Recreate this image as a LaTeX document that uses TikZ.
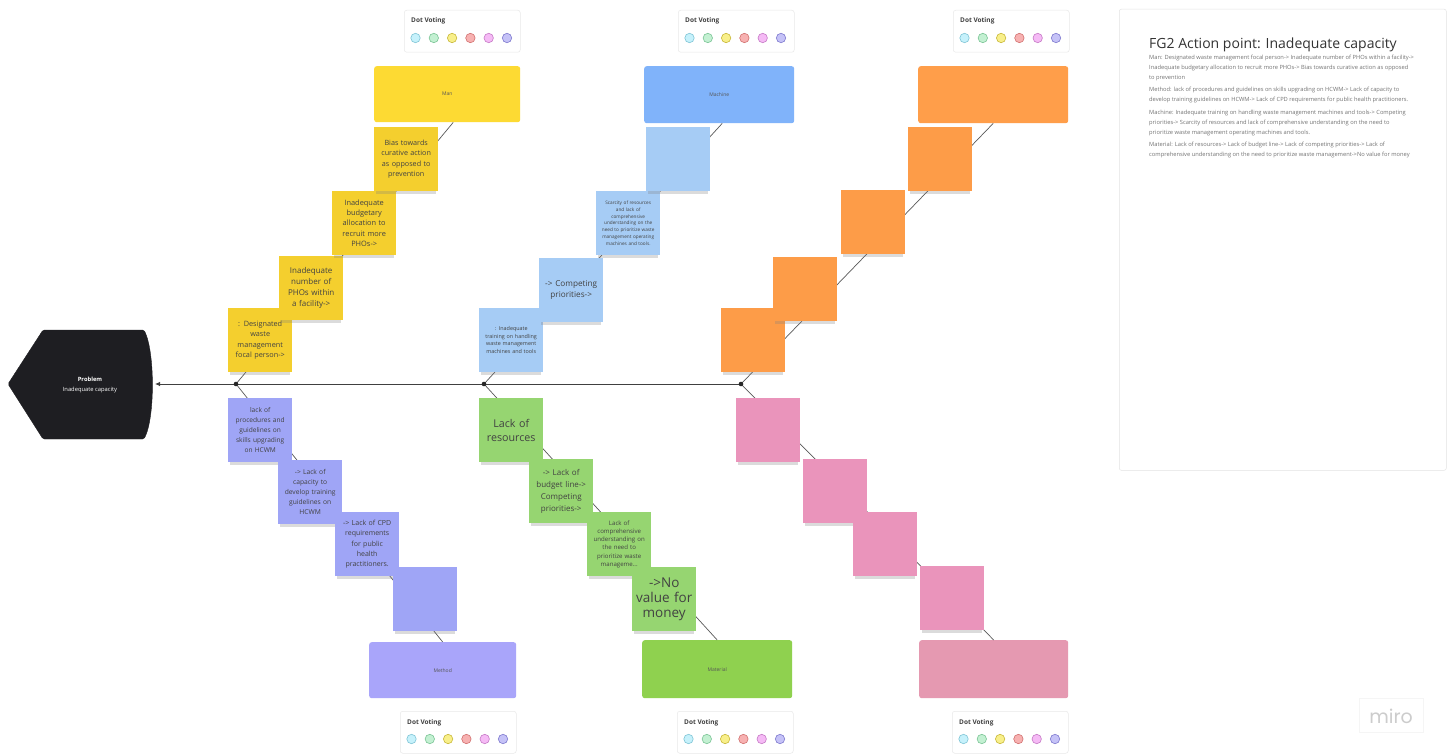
\documentclass[tikz,border=0pt]{standalone}
\usepackage{fontspec}
\setmainfont{Open Sans}
\newfontfamily\logofont{Poppins}
\usetikzlibrary{arrows.meta,shadows}
\newcommand\fsz[2]{\fontsize{#1}{#2}\selectfont}
\definecolor{manc}{HTML}{FDDA33}
\definecolor{ynote}{HTML}{F4CF2E}
\definecolor{machc}{HTML}{80B3FA}
\definecolor{bnote}{HTML}{A6CCF5}
\definecolor{orc}{HTML}{FF9E4A}
\definecolor{onote}{HTML}{FD9C48}
\definecolor{methc}{HTML}{A9A5FA}
\definecolor{mnote}{HTML}{9FA5F6}
\definecolor{matc}{HTML}{8FD14F}
\definecolor{gnote}{HTML}{96D571}
\definecolor{pkc}{HTML}{E599B1}
\definecolor{pnote}{HTML}{EA94BB}
\definecolor{probc}{HTML}{1E1E22}
\definecolor{notetxt}{HTML}{424242}
\definecolor{cattxt}{HTML}{555555}
\definecolor{vc1}{HTML}{C6F1FB}\definecolor{vl1}{HTML}{7FC5D6}
\definecolor{vc2}{HTML}{C3F0D2}\definecolor{vl2}{HTML}{79C494}
\definecolor{vc3}{HTML}{F8EF8A}\definecolor{vl3}{HTML}{C9B93A}
\definecolor{vc4}{HTML}{F7B1B1}\definecolor{vl4}{HTML}{D2706F}
\definecolor{vc5}{HTML}{F5BAF5}\definecolor{vl5}{HTML}{C679C6}
\definecolor{vc6}{HTML}{C5C2F7}\definecolor{vl6}{HTML}{7E79CF}
\tikzset{
  note/.style={anchor=north west, minimum width=64pt, minimum height=64pt,
    text width=62pt, inner sep=0pt, align=center, text=notetxt,
    drop shadow={shadow xshift=0pt, shadow yshift=-4.5pt, opacity=0.28, shadow scale=0.94}},
  catbox/.style={anchor=north west, rounded corners=2.5pt, inner sep=0pt,
    font=\fsz{5}{6}, text=cattxt},
  bone/.style={draw=black!65, line width=0.7pt},
  spine/.style={draw=black!75, line width=0.8pt},
  jdot/.style={circle, fill=black!85, inner sep=0pt, minimum size=4.6pt},
  widget/.style={anchor=north west, minimum width=116pt, minimum height=42pt,
    rounded corners=2.5pt, fill=white, draw=black!9, line width=0.5pt, inner sep=0pt},
  wtitle/.style={anchor=base west, inner sep=0pt, font=\bfseries\fsz{6.5}{7}, text=black!75},
  vdot/.style={circle, inner sep=0pt, minimum size=9.4pt, line width=0.6pt},
  dotvote/.pic={
    \node[widget] (-box) at (0,0) {};
    \node[wtitle] (-title) at (7,13) {Dot Voting};
    \node[vdot, fill=vc1, draw=vl1] (-a) at (11.5,28) {};
    \node[vdot, fill=vc2, draw=vl2] (-b) at (29.8,28) {};
    \node[vdot, fill=vc3, draw=vl3] (-c) at (48.1,28) {};
    \node[vdot, fill=vc4, draw=vl4] (-d) at (66.4,28) {};
    \node[vdot, fill=vc5, draw=vl5] (-e) at (84.7,28) {};
    \node[vdot, fill=vc6, draw=vl6] (-f) at (103,28) {};
  }
}
\begin{document}
\begin{tikzpicture}[x=1pt,y=-1pt]
\useasboundingbox (0,0) rectangle (1450,754);
\fill[white] (0,0) rectangle (1450,754);

% dot voting widgets
\pic (dvt1) at (404,10) {dotvote};
\pic (dvt2) at (678,10) {dotvote};
\pic (dvt3) at (953,10) {dotvote};
\pic (dvb1) at (400,711) {dotvote};
\pic (dvb2) at (677,711) {dotvote};
\pic (dvb3) at (952,711) {dotvote};

% category boxes
\node[catbox, fill=manc, minimum width=146pt, minimum height=56pt] (man) at (374,66) {Man};
\node[catbox, fill=machc, minimum width=150pt, minimum height=57pt] (machine) at (644,66) {Machine};
\node[catbox, fill=orc, minimum width=150pt, minimum height=57pt] (orbox) at (918,66) {};
\node[catbox, fill=methc, minimum width=147pt, minimum height=56pt] (method) at (369,642) {Method};
\node[catbox, fill=matc, minimum width=150pt, minimum height=58pt] (material) at (642,640) {Material};
\node[catbox, fill=pkc, minimum width=149pt, minimum height=58pt] (pkbox) at (919,640) {};

% problem head
\filldraw[fill=probc, draw=probc, rounded corners=1.5pt]
  (8,384) -- (43,330) -- (144,330) .. controls (155,352) and (155,418) .. (144,439) -- (43,439) -- cycle;
\node[text=white, align=center, inner sep=0pt, font=\fsz{5.8}{9.5}] (problem) at (90,385)
  {\textbf{Problem}\\Inadequate capacity};

% spine and bones
\coordinate (j1) at (236,384);
\coordinate (j2) at (484,384);
\coordinate (j3) at (741,384);
\coordinate (pe) at (155,384);
\draw[spine, -{Latex[length=5pt,width=4.5pt]}] (j3) -- (pe);
\draw[bone] (j1) -- ([xshift=6pt]man.south);
\draw[bone] (j2) -- ([xshift=3pt]machine.south);
\draw[bone] (j3) -- (orbox.south);
\draw[bone] (j1) -- (method.north);
\draw[bone] (j2) -- (material.north);
\draw[bone] (j3) -- (pkbox.north);

% yellow (Man)
\node[note, fill=ynote, font=\fsz{7.3}{10.5}] (y4) at (228,308) {: Designated\\waste\\management\\focal person->};
\node[note, fill=ynote, font=\fsz{8}{11}] (y3) at (279,256) {Inadequate\\number of\\PHOs within\\a facility->};
\node[note, fill=ynote, font=\fsz{7.4}{10.4}] (y2) at (332,191) {Inadequate\\budgetary\\allocation to\\recruit more\\PHOs->};
\node[note, fill=ynote, font=\fsz{7.2}{10.5}] (y1) at (374,127) {Bias towards\\curative action\\as opposed to\\prevention};

% blue (Machine)
\node[note, fill=bnote, font=\fsz{5.4}{7.5}] (b4) at (479,308) {: Inadequate\\training on handling\\waste management\\machines and tools};
\node[note, fill=bnote, font=\fsz{8.2}{11}] (b3) at (539,258) {-> Competing\\priorities->};
\node[note, fill=bnote, font=\fsz{4.7}{6.7}] (b2) at (596,191) {Scarcity of resources\\and lack of\\comprehensive\\understanding on the\\need to prioritize waste\\management operating\\machines and tools.};
\node[note, fill=bnote] (b1) at (646,127) {};

% orange
\node[note, fill=onote] (o4) at (721,308) {};
\node[note, fill=onote] (o3) at (773,257) {};
\node[note, fill=onote] (o2) at (841,190) {};
\node[note, fill=onote] (o1) at (908,127) {};

% purple (Method)
\node[note, fill=mnote, font=\fsz{6.6}{10}] (m1) at (228,398) {lack of\\procedures and\\guidelines on\\skills upgrading\\on HCWM};
\node[note, fill=mnote, font=\fsz{6.7}{9.9}] (m2) at (278,460) {-> Lack of\\capacity to\\develop training\\guidelines on\\HCWM};
\node[note, fill=mnote, font=\fsz{7}{10.3}] (m3) at (335,512) {-> Lack of CPD\\requirements\\for public\\health\\practitioners.};
\node[note, fill=mnote] (m4) at (393,567) {};

% green (Material)
\node[note, fill=gnote, font=\fsz{10.7}{14}] (g1) at (479,398) {Lack of\\resources};
\node[note, fill=gnote, font=\fsz{8}{11.8}] (g2) at (529,459) {-> Lack of\\budget line->\\Competing\\priorities->};
\node[note, fill=gnote, font=\fsz{6.1}{8.2}] (g3) at (587,512) {Lack of\\comprehensive\\understanding on\\the need to\\prioritize waste\\manageme...};
\node[note, fill=gnote, font=\fsz{13.5}{14.8}] (g4) at (632,567) {->No\\value for\\money};

% pink
\node[note, fill=pnote] (p1) at (736,398) {};
\node[note, fill=pnote] (p2) at (803,459) {};
\node[note, fill=pnote] (p3) at (853,512) {};
\node[note, fill=pnote] (p4) at (920,566) {};

% junction dots
\node[jdot] (j1d) at (j1) {};
\node[jdot] (j2d) at (j2) {};
\node[jdot] (j3d) at (j3) {};

% right panel
\node[anchor=north west, minimum width=327pt, minimum height=461pt, fill=white,
  draw=black!11, line width=0.5pt, rounded corners=2pt, inner sep=0pt] (panel) at (1119,9) {};
\node[anchor=base west, inner sep=0pt, font=\fsz{14}{16}, text=black!80] (ptitle) at (1149,49)
  {FG2 Action point: Inadequate capacity};
\node[anchor=north west, inner sep=0pt, align=left, font=\fsz{5.75}{9.8}, text=black!55] (ptext) at (1149,55)
  {Man: Designated waste management focal person-> Inadequate number of PHOs within a facility->\\
   Inadequate budgetary allocation to recruit more PHOs-> Bias towards curative action as opposed\\
   to prevention\\[3pt]
   Method: lack of procedures and guidelines on skills upgrading on HCWM-> Lack of capacity to\\
   develop training guidelines on HCWM-> Lack of CPD requirements for public health practitioners.\\[3pt]
   Machine: Inadequate training on handling waste management machines and tools-> Competing\\
   priorities-> Scarcity of resources and lack of comprehensive understanding on the need to\\
   prioritize waste management operating machines and tools.\\[3pt]
   Material: Lack of resources-> Lack of budget line-> Lack of competing priorities-> Lack of\\
   comprehensive understanding on the need to prioritize waste management->No value for money};

% logo
\node[draw=black!4, line width=0.4pt, minimum width=64pt, minimum height=34pt, inner sep=0pt] (logobox) at (1391,715) {};
\node[inner sep=0pt, font=\logofont\fsz{19}{19}, text=black!20] (logo) at (1391,716) {miro};
\end{tikzpicture}
\end{document}
